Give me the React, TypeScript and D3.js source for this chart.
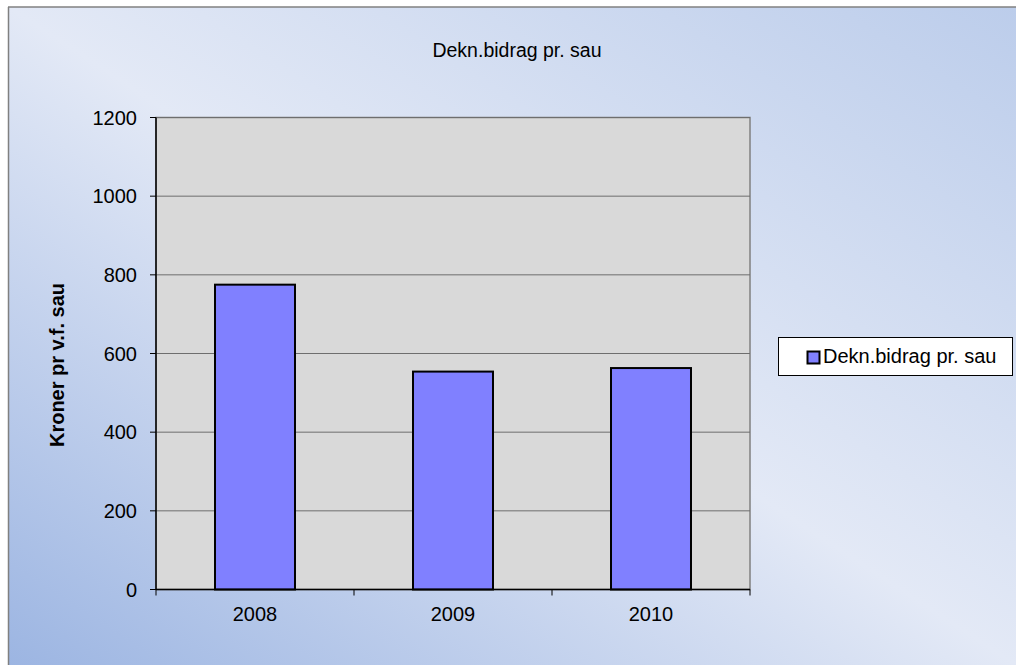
import React from "react";
import * as d3 from "d3";

const categories = ["2008", "2009", "2010"];
const values = [775, 554, 563];
const yTicks = [0, 200, 400, 600, 800, 1000, 1200];
const title = "Dekn.bidrag pr. sau";
const yLabel = "Kroner pr v.f. sau";
const legendLabel = "Dekn.bidrag pr. sau";

export default function App() {
  const W = 1016, H = 665;
  const plot = { left: 156, right: 750, top: 117.5, bottom: 589.5 };
  const x = d3.scaleBand<string>().domain(categories).range([plot.left, plot.right]).paddingInner(0.596).paddingOuter(0.298);
  const y = d3.scaleLinear().domain([0, 1200]).range([plot.bottom, plot.top]);
  const step = x.step();
  const font = "Liberation Sans, Arial, sans-serif";
  return (
    <svg width={W} height={H} style={{ position: "absolute", left: 0, top: 0 }}>
      <defs>
        <linearGradient id="bg" x1="0" y1="1" x2="1" y2="0">
          <stop offset="0" stopColor="#9cb5e2" />
          <stop offset="0.5" stopColor="#e3e9f6" />
          <stop offset="1" stopColor="#bccdeb" />
        </linearGradient>
      </defs>
      <rect x={0} y={0} width={W} height={H} fill="#ffffff" />
      <rect x={8} y={7} width={W - 8} height={H - 7} fill="url(#bg)" />
      <line x1={8.5} y1={7} x2={8.5} y2={H} stroke="#808080" strokeWidth={1.5} />
      <line x1={8} y1={7} x2={W} y2={7} stroke="#808080" strokeWidth={1.5} />
      <text x={517} y={57} textAnchor="middle" fontFamily={font} fontSize={19.5}>{title}</text>
      <rect x={plot.left} y={plot.top} width={plot.right - plot.left} height={plot.bottom - plot.top} fill="#d9d9d9" stroke="#808080" strokeWidth={1.5} />
      {yTicks.filter(t => t > 0).map(t => (
        <line key={t} x1={plot.left} x2={plot.right} y1={y(t)} y2={y(t)} stroke="#6e6e6e" strokeWidth={1} />
      ))}
      {categories.map((c, i) => (
        <rect key={c} x={x(c)} y={y(values[i])} width={x.bandwidth()} height={y(0) - y(values[i])} fill="#8080ff" stroke="#000" strokeWidth={2} />
      ))}
      <line x1={plot.left} x2={plot.left} y1={plot.top} y2={plot.bottom} stroke="#000" strokeWidth={1.5} />
      <line x1={plot.left} x2={plot.right} y1={plot.bottom} y2={plot.bottom} stroke="#000" strokeWidth={1.5} />
      {yTicks.map(t => (
        <g key={t}>
          <line x1={plot.left - 6} x2={plot.left} y1={y(t)} y2={y(t)} stroke="#000" strokeWidth={1} />
          <text x={137} y={y(t) + 7.3} textAnchor="end" fontFamily={font} fontSize={20}>{t}</text>
        </g>
      ))}
      {[0, 1, 2, 3].map(i => (
        <line key={i} x1={plot.left + i * step} x2={plot.left + i * step} y1={plot.bottom} y2={plot.bottom + 6} stroke="#000" strokeWidth={1} />
      ))}
      {categories.map(c => (
        <text key={c} x={x(c)! + x.bandwidth() / 2} y={621} textAnchor="middle" fontFamily={font} fontSize={20}>{c}</text>
      ))}
      <text transform={`translate(64,365) rotate(-90)`} textAnchor="middle" fontFamily={font} fontSize={20} fontWeight="bold">{yLabel}</text>
      <rect x={778.5} y={337.5} width={234} height={38} fill="#fff" stroke="#000" strokeWidth={1} />
      <rect x={807.5} y={351.5} width={12} height={12} fill="#8080ff" stroke="#000" strokeWidth={2} />
      <text x={823} y={363} fontFamily={font} fontSize={20}>{legendLabel}</text>
    </svg>
  );
}
